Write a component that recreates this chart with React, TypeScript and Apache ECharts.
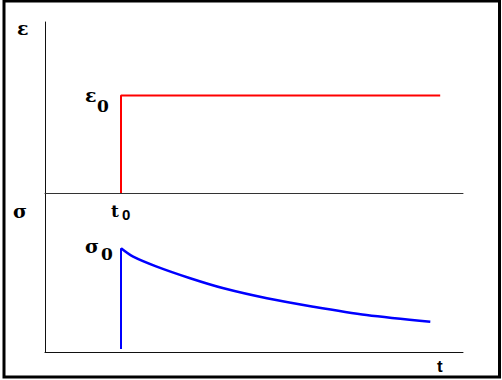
import React, { useEffect, useRef } from "react";
import * as echarts from "echarts";

// time in units where t0 = 1
const strainT: number[] = [1, 1, 5.2];
const strainV: number[] = [0, 1, 1];

const stressJumpT: number[] = [1, 1];
const stressJumpV: number[] = [0.03, 1];

const stressT: number[] = [1, 1.16, 1.47, 1.91, 2.35, 2.92, 3.53, 4.23, 5.07];
const stressV: number[] = [1, 0.919, 0.823, 0.711, 0.614, 0.518, 0.437, 0.357, 0.292];

const SERIF = "'DejaVu Serif', 'Liberation Serif', serif";
const SANS = "'Liberation Sans', Arial, sans-serif";

function pairs(xs: number[], ys: number[]) {
  return xs.map((x, i) => [x, ys[i]]);
}

export default function App() {
  const ref = useRef<HTMLDivElement>(null);
  useEffect(() => {
    if (!ref.current) return;
    const chart = echarts.init(ref.current, undefined, { renderer: "svg" });
    const axisLine = (c: string) => ({ show: true, lineStyle: { color: c, width: 1 } });
    const hidden = { axisTick: { show: false }, axisLabel: { show: false }, splitLine: { show: false } };
    const txt = (text: string, x: number, y: number, font: string) => ({
      type: "text",
      x,
      y,
      style: { text, font, fill: "#000", align: "left", verticalAlign: "middle" },
    });
    chart.setOption({
      animation: false,
      backgroundColor: "#fff",
      grid: [
        { left: 45, top: 22, width: 418, height: 171 },
        { left: 45, top: 193, width: 418, height: 159 },
      ],
      xAxis: [
        { type: "value", gridIndex: 0, min: 0, max: 5.5, axisLine: axisLine("#333"), ...hidden },
        { type: "value", gridIndex: 1, min: 0, max: 5.5, axisLine: axisLine("#111"), ...hidden },
      ],
      yAxis: [
        { type: "value", gridIndex: 0, min: 0, max: 1.754, axisLine: axisLine("#111"), ...hidden },
        { type: "value", gridIndex: 1, min: 0, max: 1.533, axisLine: axisLine("#111"), ...hidden },
      ],
      series: [
        {
          type: "line",
          xAxisIndex: 0,
          yAxisIndex: 0,
          data: pairs(strainT, strainV),
          symbol: "none",
          lineStyle: { color: "#ff0000", width: 2 },
        },
        {
          type: "line",
          xAxisIndex: 1,
          yAxisIndex: 1,
          data: pairs(stressJumpT, stressJumpV),
          symbol: "none",
          lineStyle: { color: "#0000ff", width: 2 },
        },
        {
          type: "line",
          xAxisIndex: 1,
          yAxisIndex: 1,
          data: pairs(stressT, stressV),
          symbol: "none",
          smooth: 0.3,
          lineStyle: { color: "#0000ff", width: 2.5 },
        },
      ],
      graphic: [
        {
          type: "rect",
          shape: { x: 4, y: 1, width: 495.5, height: 376 },
          style: { fill: "none", stroke: "#000", lineWidth: 3 },
        },
        txt("ε", 17, 28.4, `bold 19px ${SERIF}`),
        txt("ε", 85, 95.4, `bold 19px ${SERIF}`),
        txt("0", 97, 106, `bold 17px ${SERIF}`),
        txt("t", 111, 211, `bold 17px ${SERIF}`),
        txt("0", 122, 214.5, `bold 15px ${SANS}`),
        txt("σ", 13, 211.4, `bold 19px ${SERIF}`),
        txt("σ", 85, 246.4, `bold 19px ${SERIF}`),
        txt("0", 101, 254, `bold 17px ${SERIF}`),
        txt("t", 437, 366, `bold 17px ${SANS}`),
      ],
    });
    return () => chart.dispose();
  }, []);
  return <div ref={ref} style={{ width: 502, height: 380, position: "absolute", left: 0, top: 0 }} />;
}
